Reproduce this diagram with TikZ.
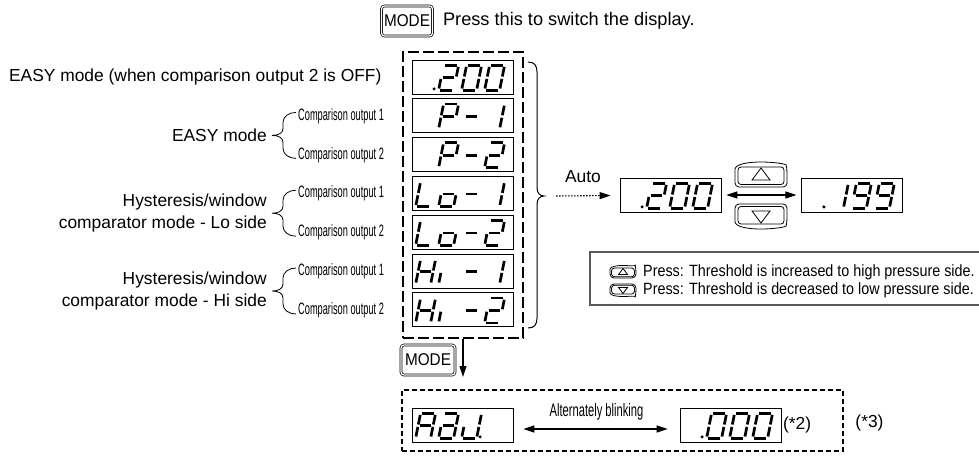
\documentclass[tikz,border=0pt]{standalone}
\usepackage{fontspec}
\setmainfont{Liberation Sans}
\newfontfamily\cmpfont[FakeStretch=0.56]{Liberation Sans}
\newfontfamily\pressfont[FakeStretch=0.88]{Liberation Sans}
\newfontfamily\blinkfont[FakeStretch=0.62]{Liberation Sans}
\newfontfamily\keyfont[FakeStretch=0.9]{Liberation Sans}
\usetikzlibrary{arrows.meta,positioning}

% segment lists of the display characters
\newcommand\segZero{a,b,c,d,e,f}
\newcommand\segOne{b,c}
\newcommand\segTwo{a,b,d,e,g}
\newcommand\segNine{a,b,c,d,f,g}
\newcommand\segP{a,b,e,f,g}
\newcommand\segL{d,e,f}
\newcommand\segO{c,d,e,g}
\newcommand\segH{b,c,e,f,g}
\newcommand\segI{e}
\newcommand\segA{a,b,c,e,f,g}
\newcommand\segD{a,b,c,d,e,g}
\newcommand\segJ{b,c,d,e}
\newcommand\segDash{g}

% one digit of a display: node, place (1-4), segments
\newcommand\lcddigit[3]{%
  \edef\seglist{#3}%
  \begin{scope}[shift={([xshift={4+23*(#2-1)},yshift=4.2]#1.south west)}, xslant=0.2]
    \coordinate (seg-a-1) at (1.7,-25);  \coordinate (seg-a-2) at (13.3,-25);
    \coordinate (seg-b-1) at (15,-23.3); \coordinate (seg-b-2) at (15,-13.7);
    \coordinate (seg-c-1) at (15,-11.3); \coordinate (seg-c-2) at (15,-1.7);
    \coordinate (seg-d-1) at (1.7,0);    \coordinate (seg-d-2) at (13.3,0);
    \coordinate (seg-e-1) at (0,-11.3);  \coordinate (seg-e-2) at (0,-1.7);
    \coordinate (seg-f-1) at (0,-23.3);  \coordinate (seg-f-2) at (0,-13.7);
    \coordinate (seg-g-1) at (1.7,-12.5);  \coordinate (seg-g-2) at (13.3,-12.5);
    \foreach \s in \seglist {\draw[Seg] (seg-\s-1) -- (seg-\s-2);}
  \end{scope}}
% decimal point after a place
\newcommand\lcddot[2]{\fill ([xshift={4+23*(#2-1)+18.5},yshift=5.5]#1.south west) circle[radius=1.7];}

% up/down key: x, y, scale, 1 = up / -1 = down
\newcommand\updown[4]{%
  \begin{scope}[shift={(#1,#2)}, scale=#3, yscale=#4]
    \draw[line width=0.8pt] (-26,-6) [rounded corners=4]-- (-26,12) -- (26,12) -- (26,-6)
      [sharp corners] .. controls (25,-11) and (13,-13) .. (0,-13)
      .. controls (-13,-13) and (-25,-11) .. (-26,-6);
    \draw[line width=0.8pt, rounded corners=3] (-23,-8) rectangle (23,9.5);
    \draw[line width=0.8pt] (-9,5) -- (9,5) -- (0,-7) -- cycle;
  \end{scope}}

% small brace in front of two comparison outputs
\newcommand\groupbrace[1]{%
  \draw[line width=0.8pt] (296,#1-23) .. controls (289,#1-23) and (283,#1-19) .. (283,#1-13)
    -- (283,#1-7) .. controls (283,#1-2) and (278,#1) .. (272,#1)
    .. controls (278,#1) and (283,#1+2) .. (283,#1+7)
    -- (283,#1+13) .. controls (283,#1+19) and (289,#1+23) .. (296,#1+23);}

\begin{document}
\begin{tikzpicture}
  [
    x=1pt, y=-1pt,
    Lcd/.style={draw, line width=0.8pt, minimum width=101pt, minimum height=34pt, inner sep=0pt},
    Seg/.style={line width=2.7pt},
    Mode/.style={draw, double, double distance=1.3pt, line width=0.7pt, rounded corners=3pt, minimum width=51pt, minimum height=30pt, inner sep=0pt, font=\keyfont\fontsize{17}{17}\selectfont},
    Frame/.style={draw, line width=1.1pt, dash pattern=on 11pt off 4pt, minimum width=120pt, minimum height=286pt},
    Label/.style={font=\fontsize{17.4}{22}\selectfont, inner sep=0pt},
    Cmp/.style={font=\cmpfont\fontsize{16.5}{16.5}\selectfont, inner sep=0pt, anchor=west},
    Press/.style={font=\pressfont\fontsize{16.3}{18}\selectfont, inner sep=0pt, anchor=west},
    Conn/.style={line width=1.1pt, -{Triangle[length=11pt,width=7pt]}},
    Both/.style={line width=1.1pt, {Triangle[length=11pt,width=7pt]}-{Triangle[length=11pt,width=7pt]}}
  ]
  \useasboundingbox (0,0) rectangle (979,455);

  % Top line
  \node[Mode] (mTop) at (407,21) {MODE};
  \node[Label, font=\fontsize{18.2}{22}\selectfont, right=10pt of mTop] (press) {Press this to switch the display.};

  % Display column
  \node[Frame] (frm) at (463,195) {};
  \node[Lcd] (dEasy) at (462.5,77) {};
  \node[Lcd, below=4pt of dEasy] (dP1) {};
  \node[Lcd, below=4pt of dP1] (dP2) {};
  \node[Lcd, below=4pt of dP2] (dLo1) {};
  \node[Lcd, below=4pt of dLo1] (dLo2) {};
  \node[Lcd, below=4pt of dLo2] (dHi1) {};
  \node[Lcd, below=4pt of dHi1] (dHi2) {};

  \lcddot{dEasy}{1} \lcddigit{dEasy}{2}{\segTwo} \lcddigit{dEasy}{3}{\segZero} \lcddigit{dEasy}{4}{\segZero}
  \lcddigit{dP1}{2}{\segP} \lcddigit{dP1}{3}{\segDash} \lcddigit{dP1}{4}{\segOne}
  \lcddigit{dP2}{2}{\segP} \lcddigit{dP2}{3}{\segDash} \lcddigit{dP2}{4}{\segTwo}
  \lcddigit{dLo1}{1}{\segL} \lcddigit{dLo1}{2}{\segO} \lcddigit{dLo1}{3}{\segDash} \lcddigit{dLo1}{4}{\segOne}
  \lcddigit{dLo2}{1}{\segL} \lcddigit{dLo2}{2}{\segO} \lcddigit{dLo2}{3}{\segDash} \lcddigit{dLo2}{4}{\segTwo}
  \lcddigit{dHi1}{1}{\segH} \lcddigit{dHi1}{2}{\segI} \lcddigit{dHi1}{3}{\segDash} \lcddigit{dHi1}{4}{\segOne}
  \lcddigit{dHi2}{1}{\segH} \lcddigit{dHi2}{2}{\segI} \lcddigit{dHi2}{3}{\segDash} \lcddigit{dHi2}{4}{\segTwo}

  % Left labels
  \node[Label, left=30pt of dEasy] (easyOff) {EASY mode (when comparison output 2 is OFF)};
  \node[Label, anchor=east] (easy) at (267,135.4) {EASY mode};
  \node[Label, anchor=east, align=right] (lo) at (267,213.2) {Hysteresis/window\\comparator mode - Lo side};
  \node[Label, anchor=east, align=right] (hi) at (267,291) {Hysteresis/window\\comparator mode - Hi side};
  \node[Cmp] (cP1) at (298,115.9) {Comparison output 1};
  \node[Cmp] (cP2) at (298,154.8) {Comparison output 2};
  \node[Cmp] (cLo1) at (298,193.7) {Comparison output 1};
  \node[Cmp] (cLo2) at (298,232.6) {Comparison output 2};
  \node[Cmp] (cHi1) at (298,271.5) {Comparison output 1};
  \node[Cmp] (cHi2) at (298,310.4) {Comparison output 2};
  \groupbrace{135.4}
  \groupbrace{213.2}
  \groupbrace{291}

  % Brace and auto display
  \draw[line width=1pt] (528,62) .. controls (534,62) and (537,65) .. (537,72) -- (537,188)
    .. controls (537,193) and (540,196) .. (544,196) .. controls (540,196) and (537,199) .. (537,204)
    -- (537,318) .. controls (537,325) and (534,328) .. (528,328);
  \coordinate (autoStart) at (556,196);
  \node[Label] (auto) at (583,177) {Auto};
  \node[Lcd] (dAuto) at (670.5,195) {};
  \node[Lcd, right=80pt of dAuto] (dLow) {};
  \draw[Conn, dash pattern=on 1.5pt off 1.5pt, shorten >=9pt] (autoStart) -- (dAuto);
  \draw[Both, shorten <=5pt, shorten >=5pt] (dAuto) -- (dLow);
  \lcddot{dAuto}{1} \lcddigit{dAuto}{2}{\segTwo} \lcddigit{dAuto}{3}{\segZero} \lcddigit{dAuto}{4}{\segZero}
  \lcddot{dLow}{1} \lcddigit{dLow}{2}{\segOne} \lcddigit{dLow}{3}{\segNine} \lcddigit{dLow}{4}{\segNine}
  \updown{761}{175}{1}{1}
  \updown{761}{216}{1}{-1}

  % Key notes
  \draw[line width=1.2pt, black!65] (979,252) -| (590,305) -- (979,305);
  \updown{623}{272}{0.5}{1}
  \updown{623}{290}{0.5}{-1}
  \node[Press] (pUp) at (643,272) {Press: Threshold is increased to high pressure side.};
  \node[Press] (pDown) at (643,290) {Press: Threshold is decreased to low pressure side.};

  % MODE and adjust box
  \node[Mode, minimum width=54pt] (mBot) at (428,360) {MODE};
  \coordinate (modeEnd) at (463,377);
  \draw[Conn] (frm.south) -- (modeEnd);
  \node[draw, line width=1.2pt, dash pattern=on 5pt off 3pt, minimum width=441pt, minimum height=61pt] (adjBox) at (622.5,420.5) {};
  \node[Lcd] (dAdj) at (462.5,425) {};
  \node[Lcd] (dZero) at (730.5,425) {};
  \lcddigit{dAdj}{1}{\segA} \lcddigit{dAdj}{2}{\segD} \lcddigit{dAdj}{3}{\segJ} \lcddot{dAdj}{3}
  \lcddot{dZero}{1} \lcddigit{dZero}{2}{\segZero} \lcddigit{dZero}{3}{\segZero} \lcddigit{dZero}{4}{\segZero}
  \draw[Both, shorten <=10pt, shorten >=12pt] ([yshift=-4pt]dAdj.east) -- ([yshift=-4pt]dZero.west);
  \node[font=\blinkfont\fontsize{18}{18}\selectfont, inner sep=0pt] (blink) at (596.5,412) {Alternately blinking};
  \node[Label, right=1.5pt of dZero] (n2) {(*2)};
  \node[Label] (n3) at (869.5,423) {(*3)};
\end{tikzpicture}
\end{document}
